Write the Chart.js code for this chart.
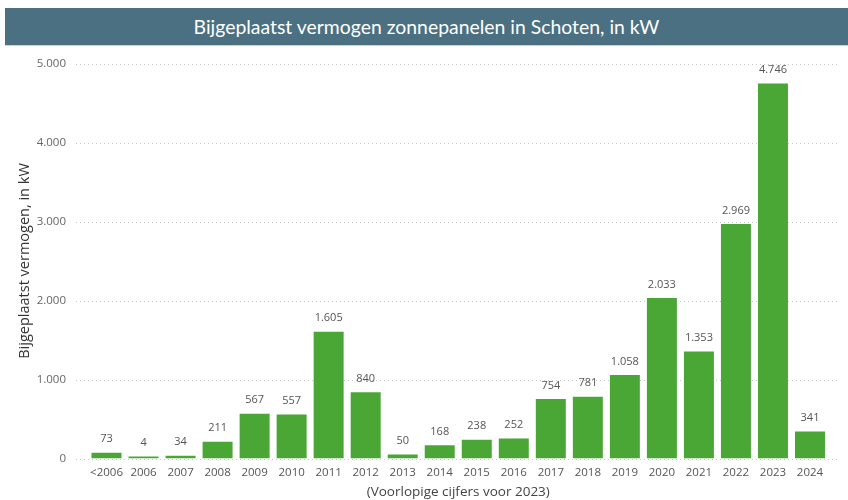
<!DOCTYPE html>
<html>
<head>
<meta charset="utf-8">
<script src="https://cdn.jsdelivr.net/npm/chart.js@4"></script>
<style>
    body { margin: 0; background: #fff; }
    #wrap { position: relative; width: 848px; height: 500px; }
    #titlebar {
        position: absolute; left: 5px; top: 8px; width: 843px; height: 37px;
        background: #4b7081; color: #fff; border-bottom: 1px solid #c9d3d8;
        font-family: Lato, "Noto Sans", sans-serif; font-size: 19.4px;
        line-height: 37px; text-align: center;
    }
    canvas { position: absolute; left: 0; top: 0; }
</style>
</head>
<body>
<div id="wrap">
    <canvas id="chart" width="848" height="500"></canvas>
    <div id="titlebar">Bijgeplaatst vermogen zonnepanelen in Schoten, in kW</div>
</div>
<script>
const years = ["<2006", "2006", "2007", "2008", "2009", "2010", "2011", "2012", "2013", "2014",
    "2015", "2016", "2017", "2018", "2019", "2020", "2021", "2022", "2023", "2024"];
const capacity = [73, 4, 34, 211, 567, 557, 1605, 840, 50, 168,
    238, 252, 754, 781, 1058, 2033, 1353, 2969, 4746, 341];
const yTicks = [0, 1000, 2000, 3000, 4000, 5000];

const fontFamily = "'Open Sans', 'Noto Sans', sans-serif";

function fmt(v) {
    return String(v).replace(/\B(?=(\d{3})+(?!\d))/g, ".");
}

// dotted gridlines, a bit wider than the chart area
const gridPlugin = {
    id: "dottedGrid",
    beforeDatasetsDraw(chart) {
        const ctx = chart.ctx;
        const y = chart.scales.y;
        ctx.save();
        ctx.strokeStyle = "#c8c8c8";
        ctx.lineWidth = 1;
        ctx.setLineDash([1, 3]);
        yTicks.forEach(t => {
            const py = Math.round(y.getPixelForValue(t)) + 0.5;
            ctx.beginPath();
            ctx.moveTo(chart.chartArea.left - 12, py);
            ctx.lineTo(840, py);
            ctx.stroke();
        });
        ctx.restore();
    }
};

const valueLabels = {
    id: "valueLabels",
    afterDatasetsDraw(chart) {
        const ctx = chart.ctx;
        const meta = chart.getDatasetMeta(0);
        ctx.save();
        ctx.fillStyle = "#555";
        ctx.font = "11px " + fontFamily;
        ctx.textAlign = "center";
        ctx.textBaseline = "bottom";
        meta.data.forEach((bar, i) => {
            ctx.fillText(fmt(capacity[i]), bar.x, bar.y - 8);
        });
        ctx.restore();
    }
};

new Chart(document.getElementById("chart"), {
    type: "bar",
    data: {
        labels: years,
        datasets: [{
            data: capacity,
            backgroundColor: "#4ba735",
            borderWidth: 0,
            minBarLength: 2,
            barPercentage: 0.81,
            categoryPercentage: 1
        }]
    },
    options: {
        responsive: false,
        animation: false,
        layout: { padding: { top: 63.5, right: 19.5, left: 0, bottom: 0 } },
        plugins: {
            legend: { display: false },
            tooltip: { enabled: false }
        },
        scales: {
            x: {
                grid: { display: false, drawTicks: false },
                border: { display: false },
                ticks: { color: "#555", font: { family: fontFamily, size: 11.5 }, padding: 7, maxRotation: 0, autoSkip: false },
                title: { display: true, text: "(Voorlopige cijfers voor 2023)", color: "#444", font: { family: fontFamily, size: 13.5 }, padding: { top: 3, bottom: 0 } },
                afterFit(scale) { scale.height = 41.5; }
            },
            y: {
                min: 0,
                max: 5000,
                afterBuildTicks(scale) { scale.ticks = yTicks.map(v => ({ value: v })); },
                grid: { display: false, drawTicks: false },
                border: { display: false },
                ticks: { color: "#666", font: { family: fontFamily, size: 11.5 }, padding: 22, callback: v => fmt(v) },
                title: { display: true, text: "Bijgeplaatst vermogen, in kW", color: "#333", font: { family: fontFamily, size: 14.5 }, padding: { top: 16, bottom: 0 } },
                afterFit(scale) { scale.width = 88; }
            }
        }
    },
    plugins: [gridPlugin, valueLabels]
});
</script>
</body>
</html>
